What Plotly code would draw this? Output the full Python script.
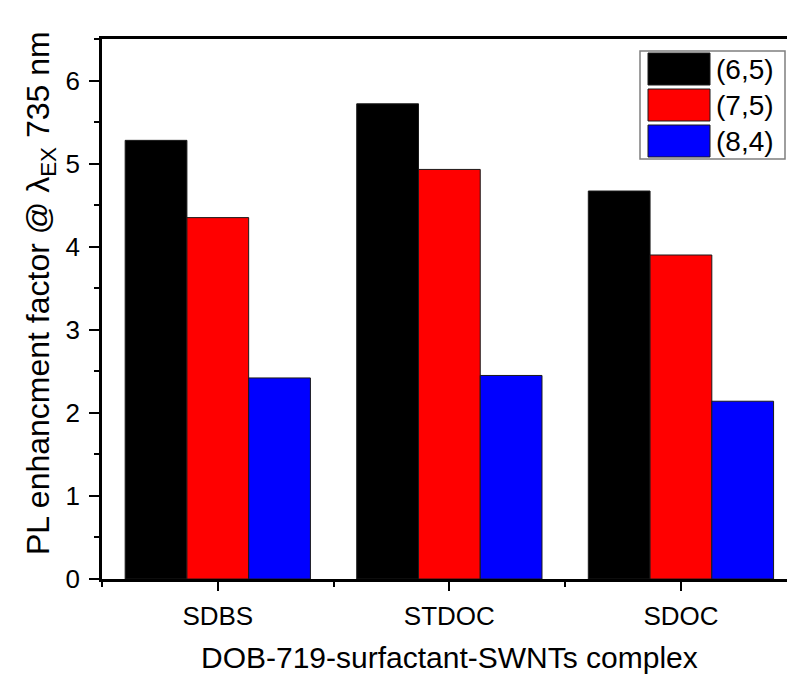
import plotly.graph_objects as go

# Surfactant complexes on the x axis
categories = ["SDBS", "STDOC", "SDOC"]

# PL enhancement factor for each chirality
series_names = ["(6,5)", "(7,5)", "(8,4)"]
vals_65 = [5.28, 5.72, 4.67]
vals_75 = [4.35, 4.93, 3.90]
vals_84 = [2.42, 2.45, 2.14]
series_values = [vals_65, vals_75, vals_84]
series_colors = ["#000000", "#ff0000", "#0000ff"]

y_ticks = [0, 1, 2, 3, 4, 5, 6]

FONT = "Liberation Sans, Arial, sans-serif"
W, H = 787, 675
L, R, T, B = 102, 0, 39, 96
PW, PH = W - L - R, H - T - B


def px(x):
    return (x - L) / PW


def py(y):
    return (H - B - y) / PH


xpos = list(range(len(categories)))

fig = go.Figure()
for name, vals, col in zip(series_names, series_values, series_colors):
    fig.add_trace(go.Bar(
        x=xpos, y=vals, name=name,
        marker=dict(color=col, line=dict(color="#1a1a1a", width=1)),
        showlegend=False,
    ))

fig.update_layout(
    width=W, height=H,
    margin=dict(l=L, r=R, t=T, b=B),
    paper_bgcolor="white", plot_bgcolor="white",
    barmode="group", bargap=0.2, bargroupgap=0,
    font=dict(family=FONT, color="black", size=26),
)

fig.update_xaxes(
    range=[-0.5, 2.458],
    tickvals=xpos, ticktext=categories,
    ticks="outside", ticklen=9, tickwidth=2, tickcolor="black",
    ticklabelstandoff=3,
    minor=dict(tick0=-0.5, dtick=1, ticks="outside", ticklen=5,
               tickwidth=2, tickcolor="black"),
    showline=True, linewidth=2.5, linecolor="black", mirror=True,
    showgrid=False, zeroline=False,
    tickfont=dict(size=26, family=FONT),
)
fig.update_yaxes(
    range=[0, 6.5],
    tickvals=y_ticks,
    ticks="outside", ticklen=10, tickwidth=2, tickcolor="black",
    ticklabelstandoff=4,
    minor=dict(dtick=0.5, ticks="outside", ticklen=5,
               tickwidth=2, tickcolor="black"),
    showline=True, linewidth=2.5, linecolor="black",
    showgrid=False, zeroline=False,
    tickfont=dict(size=26, family=FONT),
)

# Axis titles
fig.add_annotation(
    text="DOB-719-surfactant-SWNTs complex",
    xref="paper", yref="paper", x=px(449), y=py(657),
    xanchor="center", yanchor="middle", showarrow=False,
    font=dict(size=30, family=FONT),
)
fig.add_annotation(
    text="PL enhancment factor @ \u03bb<sub>EX</sub> 735 nm",
    xref="paper", yref="paper", x=px(40), y=py(293),
    xanchor="center", yanchor="middle", showarrow=False, textangle=-90,
    font=dict(size=32, family=FONT),
)

# Legend box with wide swatches
fig.add_shape(type="rect", xref="paper", yref="paper",
              x0=px(640), x1=px(785), y0=py(159), y1=py(51),
              line=dict(color="#7f7f7f", width=1.5), fillcolor="white", layer="above")
row_tops = [53, 89, 125]
for name, col, top in zip(series_names, series_colors, row_tops):
    fig.add_shape(type="rect", xref="paper", yref="paper",
                  x0=px(648), x1=px(710), y0=py(top + 32), y1=py(top),
                  line=dict(color="#1a1a1a", width=1), fillcolor=col, layer="above")
    fig.add_annotation(text=name, xref="paper", yref="paper",
                       x=px(714), y=py(top + 16), xanchor="left", yanchor="middle",
                       showarrow=False, font=dict(size=28, family=FONT))

fig.write_html("out.html")
